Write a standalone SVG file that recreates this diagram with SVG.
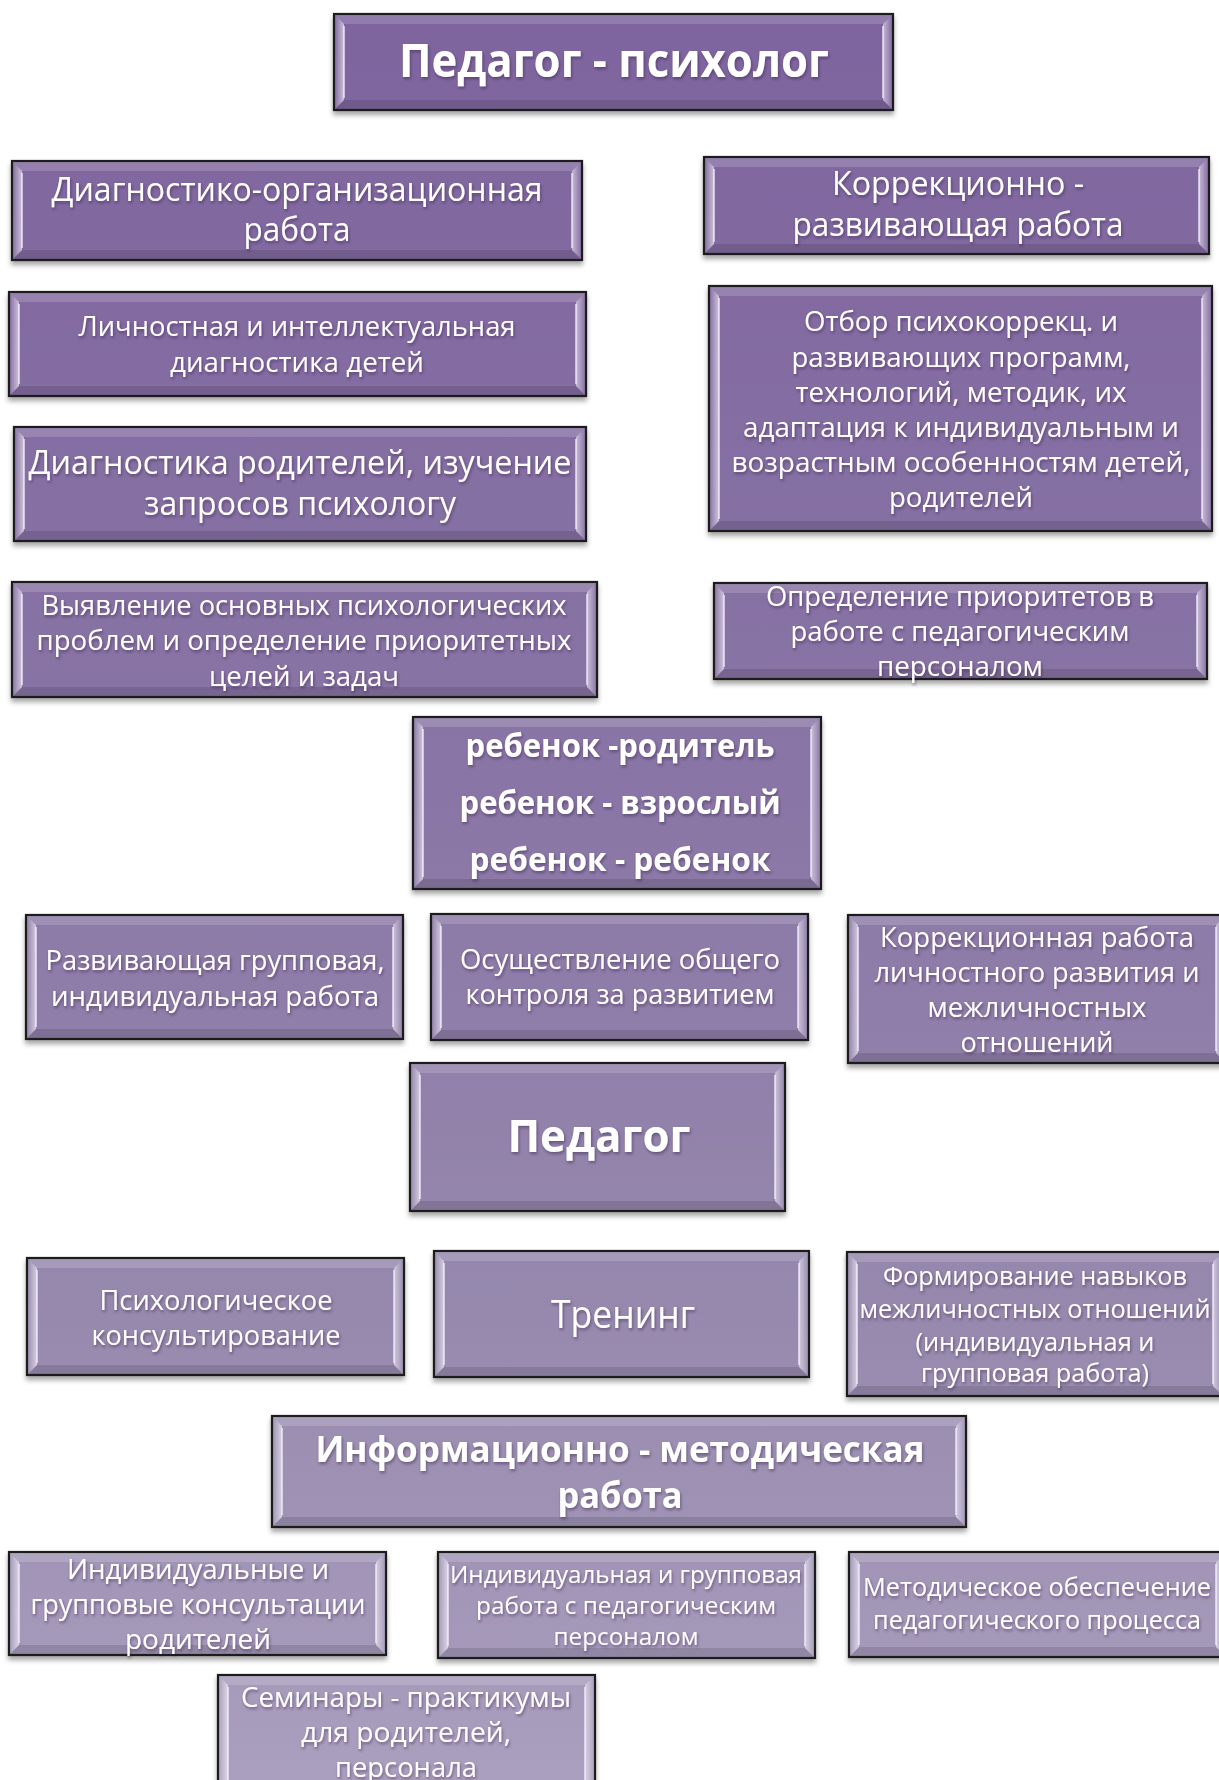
<svg xmlns="http://www.w3.org/2000/svg" width="1219" height="1780" viewBox="0 0 1219 1780">
<defs>
<linearGradient id="pg" gradientUnits="userSpaceOnUse" x1="0" y1="0" x2="0" y2="1780">
<stop offset="0" stop-color="#7e649e"/>
<stop offset="0.45" stop-color="#8a76a6"/>
<stop offset="0.75" stop-color="#978aae"/>
<stop offset="1" stop-color="#ab9fbf"/>
</linearGradient>
<linearGradient id="gl" x1="0" y1="0" x2="1" y2="0">
<stop offset="0" stop-color="#ffffff" stop-opacity="0.05"/>
<stop offset="1" stop-color="#ffffff" stop-opacity="0.6"/>
</linearGradient>
<linearGradient id="gr" x1="1" y1="0" x2="0" y2="0">
<stop offset="0" stop-color="#ffffff" stop-opacity="0.05"/>
<stop offset="1" stop-color="#ffffff" stop-opacity="0.55"/>
</linearGradient>
<filter id="sh" x="-5%" y="-10%" width="110%" height="130%">
<feDropShadow dx="0" dy="4" stdDeviation="2.5" flood-color="#000" flood-opacity="0.35"/>
</filter>
<filter id="ts" x="-5%" y="-20%" width="110%" height="150%">
<feDropShadow dx="1" dy="2" stdDeviation="1.5" flood-color="#2a1a3a" flood-opacity="0.45"/>
</filter>
</defs>
<style>
.box{fill:url(#pg);stroke:#1c1c1c;stroke-width:2.2;filter:url(#sh)}
.bl{fill:url(#gl)}
.br{fill:url(#gr)}
.bt{fill:#ffffff;fill-opacity:0.16}
.bb{fill:#000000;fill-opacity:0.12}
.hl{fill:none;stroke:#f4ecff;stroke-opacity:0.85;stroke-width:1.6}
text{font-family:"Open Sans","Noto Sans","DejaVu Sans",sans-serif;fill:#ffffff;text-anchor:middle;filter:url(#ts)}
.b{font-weight:bold}
</style>
<rect width="1219" height="1780" fill="#ffffff"/>
<g id="connectors"></g>

<g id="n1">
<rect class="box" x="334" y="14" width="559" height="96"/>
<path class="bt" d="M335 15 L892 15 L883 24 L344 24 Z"/>
<path class="bb" d="M335 109 L892 109 L883 100 L344 100 Z"/>
<path class="bl" d="M335 15 L344 24 L344 100 L335 109 Z"/>
<path class="br" d="M892 15 L883 24 L883 100 L892 109 Z"/>
<path class="hl" d="M344 26 V98 M883 26 V98"/>
<text class="b" x="614" y="77" font-size="47" textLength="430" lengthAdjust="spacingAndGlyphs">Педагог - психолог</text>
</g>

<g id="n2">
<rect class="box" x="12" y="161" width="570" height="99"/>
<path class="bt" d="M13 162 L581 162 L572 171 L22 171 Z"/>
<path class="bb" d="M13 259 L581 259 L572 250 L22 250 Z"/>
<path class="bl" d="M13 162 L22 171 L22 250 L13 259 Z"/>
<path class="br" d="M581 162 L572 171 L572 250 L581 259 Z"/>
<path class="hl" d="M22 173 V248 M572 173 V248"/>
<text x="297" y="201" font-size="32" textLength="491" lengthAdjust="spacingAndGlyphs">Диагностико-организационная</text>
<text x="297" y="241" font-size="32" textLength="107" lengthAdjust="spacingAndGlyphs">работа</text>
</g>

<g id="n3">
<rect class="box" x="704" y="157" width="505" height="97"/>
<path class="bt" d="M705 158 L1208 158 L1199 167 L714 167 Z"/>
<path class="bb" d="M705 253 L1208 253 L1199 244 L714 244 Z"/>
<path class="bl" d="M705 158 L714 167 L714 244 L705 253 Z"/>
<path class="br" d="M1208 158 L1199 167 L1199 244 L1208 253 Z"/>
<path class="hl" d="M714 169 V242 M1199 169 V242"/>
<text x="958" y="195" font-size="32" textLength="252" lengthAdjust="spacingAndGlyphs">Коррекционно -</text>
<text x="958" y="236" font-size="32" textLength="331" lengthAdjust="spacingAndGlyphs">развивающая работа</text>
</g>

<g id="n4">
<rect class="box" x="9" y="292" width="577" height="104"/>
<path class="bt" d="M10 293 L585 293 L576 302 L19 302 Z"/>
<path class="bb" d="M10 395 L585 395 L576 386 L19 386 Z"/>
<path class="bl" d="M10 293 L19 302 L19 386 L10 395 Z"/>
<path class="br" d="M585 293 L576 302 L576 386 L585 395 Z"/>
<path class="hl" d="M19 304 V384 M576 304 V384"/>
<text x="297" y="336" font-size="27" textLength="437" lengthAdjust="spacingAndGlyphs">Личностная и интеллектуальная</text>
<text x="297" y="372" font-size="27" textLength="254" lengthAdjust="spacingAndGlyphs">диагностика детей</text>
</g>

<g id="n5">
<rect class="box" x="709" y="286" width="503" height="245"/>
<path class="bt" d="M710 287 L1211 287 L1202 296 L719 296 Z"/>
<path class="bb" d="M710 530 L1211 530 L1202 521 L719 521 Z"/>
<path class="bl" d="M710 287 L719 296 L719 521 L710 530 Z"/>
<path class="br" d="M1211 287 L1202 296 L1202 521 L1211 530 Z"/>
<path class="hl" d="M719 298 V519 M1202 298 V519"/>
<text x="961" y="331" font-size="28" textLength="314" lengthAdjust="spacingAndGlyphs">Отбор психокоррекц. и</text>
<text x="961" y="367" font-size="28" textLength="339" lengthAdjust="spacingAndGlyphs">развивающих программ,</text>
<text x="961" y="402" font-size="28" textLength="331" lengthAdjust="spacingAndGlyphs">технологий, методик, их</text>
<text x="961" y="437" font-size="28" textLength="436" lengthAdjust="spacingAndGlyphs">адаптация к индивидуальным и</text>
<text x="961" y="472" font-size="28" textLength="459" lengthAdjust="spacingAndGlyphs">возрастным особенностям детей,</text>
<text x="961" y="507" font-size="28" textLength="144" lengthAdjust="spacingAndGlyphs">родителей</text>
</g>

<g id="n6">
<rect class="box" x="14" y="427" width="572" height="114"/>
<path class="bt" d="M15 428 L585 428 L576 437 L24 437 Z"/>
<path class="bb" d="M15 540 L585 540 L576 531 L24 531 Z"/>
<path class="bl" d="M15 428 L24 437 L24 531 L15 540 Z"/>
<path class="br" d="M585 428 L576 437 L576 531 L585 540 Z"/>
<path class="hl" d="M24 439 V529 M576 439 V529"/>
<text x="300" y="474" font-size="33" textLength="543" lengthAdjust="spacingAndGlyphs">Диагностика родителей, изучение</text>
<text x="300" y="515" font-size="33" textLength="312" lengthAdjust="spacingAndGlyphs">запросов психологу</text>
</g>

<g id="n7">
<rect class="box" x="12" y="582" width="585" height="115"/>
<path class="bt" d="M13 583 L596 583 L587 592 L22 592 Z"/>
<path class="bb" d="M13 696 L596 696 L587 687 L22 687 Z"/>
<path class="bl" d="M13 583 L22 592 L22 687 L13 696 Z"/>
<path class="br" d="M596 583 L587 592 L587 687 L596 696 Z"/>
<path class="hl" d="M22 594 V685 M587 594 V685"/>
<text x="304" y="615" font-size="28" textLength="525" lengthAdjust="spacingAndGlyphs">Выявление основных психологических</text>
<text x="304" y="650" font-size="28" textLength="535" lengthAdjust="spacingAndGlyphs">проблем и определение приоритетных</text>
<text x="304" y="686" font-size="28" textLength="190" lengthAdjust="spacingAndGlyphs">целей и задач</text>
</g>

<g id="n8">
<rect class="box" x="714" y="583" width="493" height="96"/>
<path class="bt" d="M715 584 L1206 584 L1197 593 L724 593 Z"/>
<path class="bb" d="M715 678 L1206 678 L1197 669 L724 669 Z"/>
<path class="bl" d="M715 584 L724 593 L724 669 L715 678 Z"/>
<path class="br" d="M1206 584 L1197 593 L1197 669 L1206 678 Z"/>
<path class="hl" d="M724 595 V667 M1197 595 V667"/>
<text x="960" y="606" font-size="28" textLength="388" lengthAdjust="spacingAndGlyphs">Определение приоритетов в</text>
<text x="960" y="641" font-size="28" textLength="339" lengthAdjust="spacingAndGlyphs">работе с педагогическим</text>
<text x="960" y="676" font-size="28" textLength="166" lengthAdjust="spacingAndGlyphs">персоналом</text>
</g>

<g id="n9">
<rect class="box" x="413" y="717" width="408" height="172"/>
<path class="bt" d="M414 718 L820 718 L811 727 L423 727 Z"/>
<path class="bb" d="M414 888 L820 888 L811 879 L423 879 Z"/>
<path class="bl" d="M414 718 L423 727 L423 879 L414 888 Z"/>
<path class="br" d="M820 718 L811 727 L811 879 L820 888 Z"/>
<path class="hl" d="M423 729 V877 M811 729 V877"/>
<text class="b" x="620" y="757" font-size="32" textLength="309" lengthAdjust="spacingAndGlyphs">ребенок -родитель</text>
<text class="b" x="620" y="814" font-size="32" textLength="321" lengthAdjust="spacingAndGlyphs">ребенок - взрослый</text>
<text class="b" x="620" y="871" font-size="32" textLength="301" lengthAdjust="spacingAndGlyphs">ребенок - ребенок</text>
</g>

<g id="n10">
<rect class="box" x="26" y="915" width="377" height="124"/>
<path class="bt" d="M27 916 L402 916 L393 925 L36 925 Z"/>
<path class="bb" d="M27 1038 L402 1038 L393 1029 L36 1029 Z"/>
<path class="bl" d="M27 916 L36 925 L36 1029 L27 1038 Z"/>
<path class="br" d="M402 916 L393 925 L393 1029 L402 1038 Z"/>
<path class="hl" d="M36 927 V1027 M393 927 V1027"/>
<text x="215" y="970" font-size="27" textLength="339" lengthAdjust="spacingAndGlyphs">Развивающая групповая,</text>
<text x="215" y="1006" font-size="27" textLength="328" lengthAdjust="spacingAndGlyphs">индивидуальная работа</text>
</g>

<g id="n11">
<rect class="box" x="431" y="914" width="377" height="126"/>
<path class="bt" d="M432 915 L807 915 L798 924 L441 924 Z"/>
<path class="bb" d="M432 1039 L807 1039 L798 1030 L441 1030 Z"/>
<path class="bl" d="M432 915 L441 924 L441 1030 L432 1039 Z"/>
<path class="br" d="M807 915 L798 924 L798 1030 L807 1039 Z"/>
<path class="hl" d="M441 926 V1028 M798 926 V1028"/>
<text x="620" y="969" font-size="27" textLength="320" lengthAdjust="spacingAndGlyphs">Осуществление общего</text>
<text x="620" y="1004" font-size="27" textLength="309" lengthAdjust="spacingAndGlyphs">контроля за развитием</text>
</g>

<g id="n12">
<rect class="box" x="848" y="915" width="378" height="148"/>
<path class="bt" d="M849 916 L1225 916 L1216 925 L858 925 Z"/>
<path class="bb" d="M849 1062 L1225 1062 L1216 1053 L858 1053 Z"/>
<path class="bl" d="M849 916 L858 925 L858 1053 L849 1062 Z"/>
<path class="br" d="M1225 916 L1216 925 L1216 1053 L1225 1062 Z"/>
<path class="hl" d="M858 927 V1051 M1216 927 V1051"/>
<text x="1037" y="947" font-size="27" textLength="314" lengthAdjust="spacingAndGlyphs">Коррекционная работа</text>
<text x="1037" y="982" font-size="27" textLength="325" lengthAdjust="spacingAndGlyphs">личностного развития и</text>
<text x="1037" y="1017" font-size="27" textLength="219" lengthAdjust="spacingAndGlyphs">межличностных</text>
<text x="1037" y="1052" font-size="27" textLength="153" lengthAdjust="spacingAndGlyphs">отношений</text>
</g>

<g id="n13">
<rect class="box" x="410" y="1063" width="375" height="148"/>
<path class="bt" d="M411 1064 L784 1064 L775 1073 L420 1073 Z"/>
<path class="bb" d="M411 1210 L784 1210 L775 1201 L420 1201 Z"/>
<path class="bl" d="M411 1064 L420 1073 L420 1201 L411 1210 Z"/>
<path class="br" d="M784 1064 L775 1073 L775 1201 L784 1210 Z"/>
<path class="hl" d="M420 1075 V1199 M775 1075 V1199"/>
<text class="b" x="599" y="1152" font-size="45" textLength="183" lengthAdjust="spacingAndGlyphs">Педагог</text>
</g>

<g id="n14">
<rect class="box" x="27" y="1258" width="377" height="117"/>
<path class="bt" d="M28 1259 L403 1259 L394 1268 L37 1268 Z"/>
<path class="bb" d="M28 1374 L403 1374 L394 1365 L37 1365 Z"/>
<path class="bl" d="M28 1259 L37 1268 L37 1365 L28 1374 Z"/>
<path class="br" d="M403 1259 L394 1268 L394 1365 L403 1374 Z"/>
<path class="hl" d="M37 1270 V1363 M394 1270 V1363"/>
<text x="216" y="1310" font-size="27" textLength="233" lengthAdjust="spacingAndGlyphs">Психологическое</text>
<text x="216" y="1345" font-size="27" textLength="249" lengthAdjust="spacingAndGlyphs">консультирование</text>
</g>

<g id="n15">
<rect class="box" x="434" y="1251" width="375" height="126"/>
<path class="bt" d="M435 1252 L808 1252 L799 1261 L444 1261 Z"/>
<path class="bb" d="M435 1376 L808 1376 L799 1367 L444 1367 Z"/>
<path class="bl" d="M435 1252 L444 1261 L444 1367 L435 1376 Z"/>
<path class="br" d="M808 1252 L799 1261 L799 1367 L808 1376 Z"/>
<path class="hl" d="M444 1263 V1365 M799 1263 V1365"/>
<text x="623" y="1328" font-size="38" textLength="144" lengthAdjust="spacingAndGlyphs">Тренинг</text>
</g>

<g id="n16">
<rect class="box" x="847" y="1252" width="376" height="144"/>
<path class="bt" d="M848 1253 L1222 1253 L1213 1262 L857 1262 Z"/>
<path class="bb" d="M848 1395 L1222 1395 L1213 1386 L857 1386 Z"/>
<path class="bl" d="M848 1253 L857 1262 L857 1386 L848 1395 Z"/>
<path class="br" d="M1222 1253 L1213 1262 L1213 1386 L1222 1395 Z"/>
<path class="hl" d="M857 1264 V1384 M1213 1264 V1384"/>
<text x="1035" y="1285" font-size="25" textLength="304" lengthAdjust="spacingAndGlyphs">Формирование навыков</text>
<text x="1035" y="1318" font-size="25" textLength="351" lengthAdjust="spacingAndGlyphs">межличностных отношений</text>
<text x="1035" y="1351" font-size="25" textLength="239" lengthAdjust="spacingAndGlyphs">(индивидуальная и</text>
<text x="1035" y="1382" font-size="25" textLength="228" lengthAdjust="spacingAndGlyphs">групповая работа)</text>
</g>

<g id="n17">
<rect class="box" x="272" y="1416" width="694" height="111"/>
<path class="bt" d="M273 1417 L965 1417 L956 1426 L282 1426 Z"/>
<path class="bb" d="M273 1526 L965 1526 L956 1517 L282 1517 Z"/>
<path class="bl" d="M273 1417 L282 1426 L282 1517 L273 1526 Z"/>
<path class="br" d="M965 1417 L956 1426 L956 1517 L965 1526 Z"/>
<path class="hl" d="M282 1428 V1515 M956 1428 V1515"/>
<text class="b" x="620" y="1462" font-size="36" textLength="609" lengthAdjust="spacingAndGlyphs">Информационно - методическая</text>
<text class="b" x="620" y="1508" font-size="36" textLength="125" lengthAdjust="spacingAndGlyphs">работа</text>
</g>

<g id="n18">
<rect class="box" x="9" y="1552" width="377" height="103"/>
<path class="bt" d="M10 1553 L385 1553 L376 1562 L19 1562 Z"/>
<path class="bb" d="M10 1654 L385 1654 L376 1645 L19 1645 Z"/>
<path class="bl" d="M10 1553 L19 1562 L19 1645 L10 1654 Z"/>
<path class="br" d="M385 1553 L376 1562 L376 1645 L385 1654 Z"/>
<path class="hl" d="M19 1564 V1643 M376 1564 V1643"/>
<text x="198" y="1579" font-size="27" textLength="262" lengthAdjust="spacingAndGlyphs">Индивидуальные и</text>
<text x="198" y="1614" font-size="27" textLength="335" lengthAdjust="spacingAndGlyphs">групповые консультации</text>
<text x="198" y="1649" font-size="27" textLength="146" lengthAdjust="spacingAndGlyphs">родителей</text>
</g>

<g id="n19">
<rect class="box" x="438" y="1552" width="377" height="106"/>
<path class="bt" d="M439 1553 L814 1553 L805 1562 L448 1562 Z"/>
<path class="bb" d="M439 1657 L814 1657 L805 1648 L448 1648 Z"/>
<path class="bl" d="M439 1553 L448 1562 L448 1648 L439 1657 Z"/>
<path class="br" d="M814 1553 L805 1562 L805 1648 L814 1657 Z"/>
<path class="hl" d="M448 1564 V1646 M805 1564 V1646"/>
<text x="626" y="1583" font-size="24" textLength="352" lengthAdjust="spacingAndGlyphs">Индивидуальная и групповая</text>
<text x="626" y="1614" font-size="24" textLength="300" lengthAdjust="spacingAndGlyphs">работа с педагогическим</text>
<text x="626" y="1645" font-size="24" textLength="145" lengthAdjust="spacingAndGlyphs">персоналом</text>
</g>

<g id="n20">
<rect class="box" x="849" y="1552" width="377" height="105"/>
<path class="bt" d="M850 1553 L1225 1553 L1216 1562 L859 1562 Z"/>
<path class="bb" d="M850 1656 L1225 1656 L1216 1647 L859 1647 Z"/>
<path class="bl" d="M850 1553 L859 1562 L859 1647 L850 1656 Z"/>
<path class="br" d="M1225 1553 L1216 1562 L1216 1647 L1225 1656 Z"/>
<path class="hl" d="M859 1564 V1645 M1216 1564 V1645"/>
<text x="1037" y="1596" font-size="25" textLength="348" lengthAdjust="spacingAndGlyphs">Методическое обеспечение</text>
<text x="1037" y="1629" font-size="25" textLength="328" lengthAdjust="spacingAndGlyphs">педагогического процесса</text>
</g>

<g id="n21">
<rect class="box" x="218" y="1675" width="377" height="130"/>
<path class="bt" d="M219 1676 L594 1676 L585 1685 L228 1685 Z"/>
<path class="bl" d="M219 1676 L228 1685 L228 1800 L219 1800 Z"/>
<path class="br" d="M594 1676 L585 1685 L585 1800 L594 1800 Z"/>
<path class="hl" d="M228 1687 V1800 M585 1687 V1800"/>
<text x="406" y="1707" font-size="27" textLength="330" lengthAdjust="spacingAndGlyphs">Семинары - практикумы</text>
<text x="406" y="1742" font-size="27" textLength="210" lengthAdjust="spacingAndGlyphs">для родителей,</text>
<text x="406" y="1777" font-size="27" textLength="142" lengthAdjust="spacingAndGlyphs">персонала</text>
</g>
</svg>
